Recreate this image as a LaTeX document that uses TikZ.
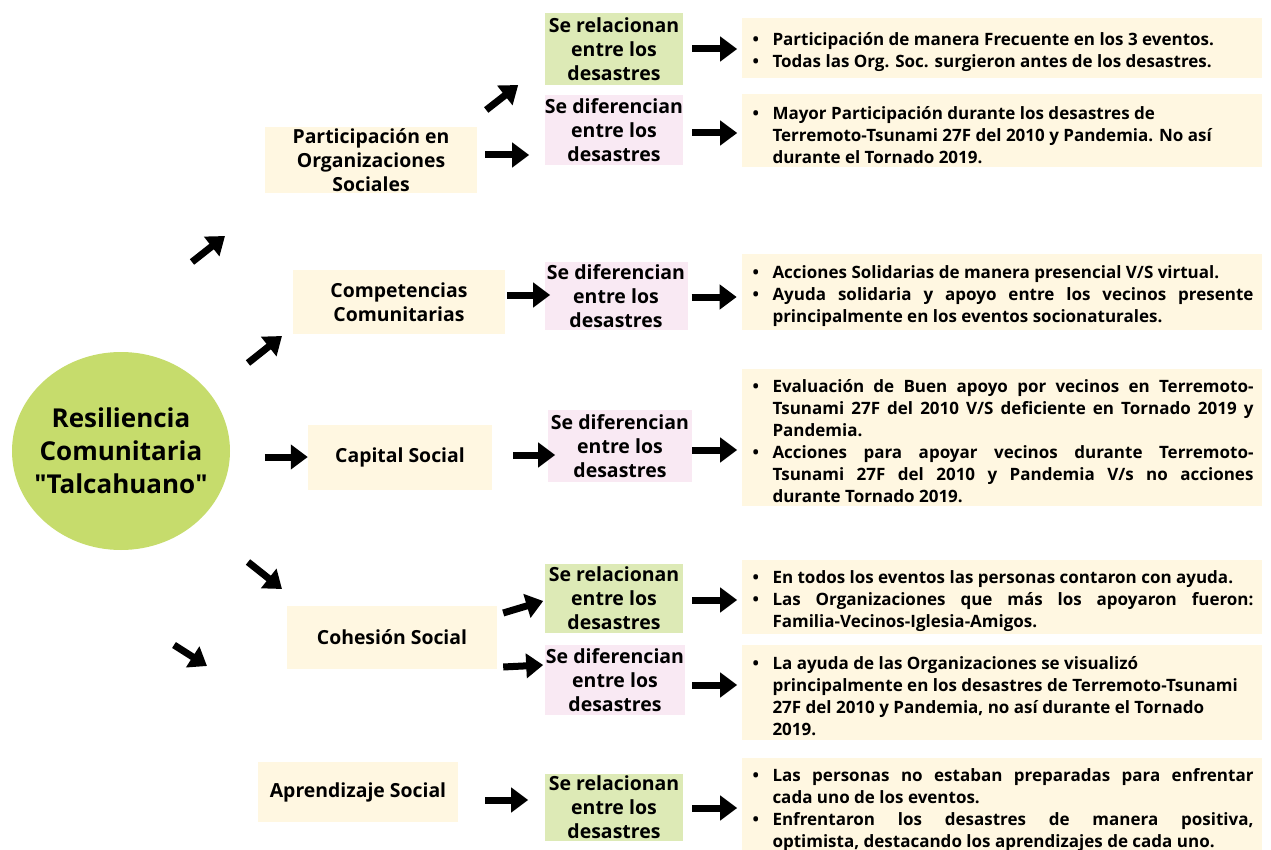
\documentclass[tikz,border=0pt]{standalone}
\usepackage{fontspec}
\setmainfont{Open Sans}
\usetikzlibrary{arrows.meta,shapes.geometric}

\definecolor{lima}{HTML}{C6DC6C}
\definecolor{verdeclaro}{HTML}{DDEAB6}
\definecolor{rosado}{HTML}{F9E9F3}
\definecolor{crema}{HTML}{FFF7E1}

% una vineta con sangria colgante
\newcommand{\itm}{\par\tolerance=10000\hyphenpenalty=10000
  \noindent\hangindent=22pt\hangafter=1\makebox[22pt][l]{\hspace{2pt}\textbullet}}

\tikzset{
  flecha/.style={line width=7pt, -{Triangle[length=17pt,width=24pt]}},
  tema/.style={fill=crema, align=center, inner sep=0pt,
    font=\bfseries\fontsize{19.4}{24}\selectfont},
  relac/.style={fill=verdeclaro, align=center, inner sep=0pt,
    minimum width=138pt, font=\bfseries\fontsize{19.5}{24}\selectfont},
  difer/.style={relac, fill=rosado},
  detalle/.style={fill=crema, text width=503pt, align=justify, inner xsep=8.5pt,
    inner ysep=2pt, font=\bfseries\fontsize{17}{22}\selectfont},
}

\begin{document}
\begin{tikzpicture}[x=1pt,y=-1pt]
\useasboundingbox[fill=white] (0,0) rectangle (1271,850);

% centro
\node[ellipse, fill=lima, minimum width=218pt, minimum height=198pt] (res) at (121,451) {};
\node[align=center, font=\bfseries\fontsize{26}{33}\selectfont] (restxt) at (res)
  {Resiliencia\\Comunitaria\\\textquotedbl Talcahuano\textquotedbl};

% temas
\node[tema, minimum width=212pt, minimum height=66pt] (part) at (371,160)
  {Participación en\\Organizaciones\\Sociales};
\node[tema, minimum width=212pt, minimum height=63pt] (comp) at (399,302)
  {Competencias\\Comunitarias};
\node[tema, minimum width=184pt, minimum height=65pt] (capital) at (400,457)
  {Capital Social};
\node[tema, minimum width=210pt, minimum height=63pt] (cohes) at (392,637)
  {Cohesión Social};
\node[tema, minimum width=200pt, minimum height=60pt] (aprend) at (358,792)
  {Aprendizaje Social};

% relacion / diferencia
\node[relac, minimum height=72pt] (rel1) at (614,49) {Se relacionan\\entre los\\desastres};
\node[difer, minimum height=70pt] (dif1) at (614,130) {Se diferencian\\entre los\\desastres};
\node[difer, minimum width=143pt, minimum height=68pt] (dif2) at (616,296) {Se diferencian\\entre los\\desastres};
\node[difer, minimum width=144pt, minimum height=72pt] (dif3) at (620,446) {Se diferencian\\entre los\\desastres};
\node[relac, minimum height=69pt] (rel4) at (614,598) {Se relacionan\\entre los\\desastres};
\node[difer, minimum width=140pt, minimum height=70pt] (dif4) at (615,680) {Se diferencian\\entre los\\desastres};
\node[relac, minimum height=67pt] (rel5) at (614,807) {Se relacionan\\entre los\\desastres};

% detalles
\node[detalle, minimum height=60pt] (det1) at (1002,48)
  {\itm Participación de manera Frecuente en los 3 eventos.
   \itm Todas las Org. Soc. surgieron antes de los desastres.\par};
\node[detalle, minimum height=73pt] (det2) at (1002,131)
  {\itm Mayor Participación durante los desastres de\newline
   Terremoto-Tsunami 27F del 2010 y Pandemia. No así\newline
   durante el Tornado 2019.\par};
\node[detalle, minimum height=75pt] (det3) at (1002,292)
  {\itm Acciones Solidarias de manera presencial V/S virtual.
   \itm Ayuda solidaria y apoyo entre los vecinos presente\linebreak
   principalmente en los eventos socionaturales.\par};
\node[detalle, minimum height=137pt] (det4) at (1002,437)
  {\itm Evaluación de Buen apoyo por vecinos en Terremoto-\linebreak
   Tsunami 27F del 2010 V/S deficiente en Tornado 2019 y\linebreak
   Pandemia.
   \itm Acciones para apoyar vecinos durante Terremoto-\linebreak
   Tsunami 27F del 2010 y Pandemia V/s no acciones\linebreak
   durante Tornado 2019.\par};
\node[detalle, minimum height=70pt] (det5) at (1002,597)
  {\itm En todos los eventos las personas contaron con ayuda.
   \itm Las Organizaciones que más los apoyaron fueron:\linebreak
   Familia-Vecinos-Iglesia-Amigos.\par};
\node[detalle, minimum height=95pt] (det6) at (1002,692)
  {\itm La ayuda de las Organizaciones se visualizó\newline
   principalmente en los desastres de Terremoto-Tsunami\newline
   27F del 2010 y Pandemia, no así durante el Tornado\newline
   2019.\par};
\node[detalle, minimum height=88pt] (det7) at (1002,806)
  {\itm Las personas no estaban preparadas para enfrentar\linebreak
   cada uno de los eventos.
   \itm Enfrentaron los desastres de manera positiva,\linebreak
   optimista, destacando los aprendizajes de cada uno.\par};

% flechas sueltas desde el centro
\coordinate (s1) at (192,262);
\coordinate (s2) at (248,363);
\coordinate (s4) at (248,562);
\coordinate (s5) at (174,645);
\draw[flecha] (s1) -- ++(33,-26);
\draw[flecha] (s2) -- ++(34,-27);
\draw[flecha] ([xshift=-43pt]capital.west) -- (capital.west);
\draw[flecha] (s4) -- ++(34,27);
\draw[flecha] (s5) -- ++(33,21);

% flechas hacia relacion / diferencia
\draw[flecha] ([shift={(9,-50)}]part.east) -- ++(32,-25);
\draw[flecha] ([shift={(8,-5)}]part.east) -- ++(44,0);
\draw[flecha] ([shift={(2,-7)}]comp.east) -- ++(43,0);
\draw[flecha] ([shift={(21,-2)}]capital.east) -- ++(42,0);
\draw[flecha] ([shift={(6,-24)}]cohes.east) -- ++(40,-12);
\draw[flecha] ([shift={(6,30)}]cohes.east) -- ++(40,-2);
\draw[flecha] ([shift={(27,8)}]aprend.east) -- ++(43,0);

% flechas hacia detalles
\draw[flecha] ([xshift=9pt]rel1.east) -- ++(45,0);
\draw[flecha] ([shift={(9,3)}]dif1.east) -- ++(45,0);
\draw[flecha] ([shift={(4,1)}]dif2.east) -- ++(45,0);
\draw[flecha] ([shift={(0,4)}]dif3.east) -- ++(45,0);
\draw[flecha] ([shift={(9,2)}]rel4.east) -- ++(45,0);
\draw[flecha] ([shift={(7,5)}]dif4.east) -- ++(45,0);
\draw[flecha] ([shift={(9,1)}]rel5.east) -- ++(45,0);
\end{tikzpicture}
\end{document}
